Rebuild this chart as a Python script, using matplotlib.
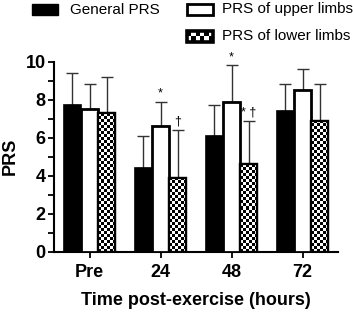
import numpy as np
import matplotlib
matplotlib.use("Agg")
import matplotlib.pyplot as plt
from matplotlib.patches import Rectangle

plt.rcParams['font.family'] = ['Liberation Sans', 'DejaVu Sans']

# data
timepoints = ["Pre", "24", "48", "72"]
general_prs = [7.7, 4.4, 6.1, 7.4]
general_sd = [1.7, 1.7, 1.6, 1.4]
upper_prs = [7.5, 6.6, 7.9, 8.5]
upper_sd = [1.3, 1.3, 1.9, 1.1]
lower_prs = [7.3, 3.9, 4.6, 6.9]
lower_sd = [1.9, 2.5, 2.3, 1.9]
series_labels = ["General PRS", "PRS of upper limbs", "PRS of lower limbs"]

# significance marks: (timepoint index, series index, symbol)
marks = [(1, 1, "*"), (1, 2, "\u2020"), (2, 1, "*"), (2, 2, "* \u2020")]

W, H = 353, 313
fig = plt.figure(figsize=(W / 100, H / 100), dpi=100)
ax = fig.add_axes([54 / W, 1 - 251.7 / H, (338 - 54) / W, (251.7 - 61.7) / H])

x = np.arange(len(timepoints))
bw = 0.24
ax.set_xlim(-0.5, 3.5)
ax.set_ylim(0, 10)


def px_per_unit():
    p0 = ax.transData.transform((0, 0))
    p1 = ax.transData.transform((1, 1))
    return p1[0] - p0[0], p1[1] - p0[1]


def checker(nx, ny):
    return (np.add.outer(np.arange(ny), np.arange(nx)) % 2).astype(float)


means = [general_prs, upper_prs, lower_prs]
sds = [general_sd, upper_sd, lower_sd]
offsets = [-bw, 0, bw]

# error bars (upward only) behind the bars
for m, s, off in zip(means, sds, offsets):
    ax.errorbar(x + off, m, yerr=[np.zeros(len(m)), s], fmt='none',
                ecolor='#333333', elinewidth=1.0, capsize=4.2, capthick=1.0,
                zorder=1)

ax.bar(x - bw, general_prs, bw, color='black', edgecolor='black',
       linewidth=1.2, zorder=3)
ax.bar(x, upper_prs, bw, color='white', edgecolor='black',
       linewidth=2.0, zorder=3)
lower_bars = ax.bar(x + bw, lower_prs, bw, color='white', edgecolor='black',
                    linewidth=1.6, zorder=3)

sx, sy = px_per_unit()
cell = 3.0
for b in lower_bars:
    x0, w, h = b.get_x(), b.get_width(), b.get_height()
    nx = max(1, int(round(w * sx / cell)))
    ny = max(1, int(round(h * sy / cell)))
    im = ax.imshow(checker(nx, ny), cmap='gray', extent=(x0, x0 + w, 0, h),
                   aspect='auto', interpolation='nearest', zorder=3.5,
                   origin='lower')
    im.set_clip_path(b)
    ax.add_patch(Rectangle((x0, 0), w, h, fill=False, edgecolor='black',
                           linewidth=1.6, zorder=4))
ax.set_xlim(-0.5, 3.5)
ax.set_ylim(0, 10)

for gi, si, sym in marks:
    top = means[si][gi] + sds[si][gi]
    ax.text(x[gi] + offsets[si], top + 0.12, sym, ha='center', va='bottom',
            fontsize=9, clip_on=False, zorder=5)

for sp in ['top', 'right']:
    ax.spines[sp].set_visible(False)
for sp in ['left', 'bottom']:
    ax.spines[sp].set_linewidth(1.5)

ax.set_xticks(x)
ax.set_xticklabels(timepoints, fontsize=13, fontweight='bold')
ax.set_yticks(np.arange(0, 11, 2))
ax.set_yticks(np.arange(1, 10, 2), minor=True)
ax.set_yticklabels([str(v) for v in range(0, 11, 2)], fontsize=13,
                   fontweight='bold')
ax.tick_params(axis='x', length=4, width=1.3, pad=5)
ax.tick_params(axis='y', which='both', length=4, width=1.3, pad=2)
ax.set_xlabel("Time post-exercise (hours)", fontsize=13, fontweight='bold',
              labelpad=8)
ax.set_ylabel("PRS", fontsize=13, fontweight='bold', labelpad=5)

# legend drawn in pixel coordinates on an overlay
lg = fig.add_axes([0, 0, 1, 1], facecolor='none')
sw_w, sw_h = 26, 11
entries = [(32, 9.5), (187, 9.5), (187, 36.5)]
text_x = [70, 222, 222]
for i, ((ex, ey), lab) in enumerate(zip(entries, series_labels)):
    if i == 0:
        lg.add_patch(Rectangle((ex, ey - sw_h / 2), sw_w, sw_h,
                               facecolor='black', edgecolor='black', lw=1))
    elif i == 1:
        lg.add_patch(Rectangle((ex, ey - sw_h / 2), sw_w, sw_h,
                               facecolor='white', edgecolor='black', lw=2))
    else:
        r = Rectangle((ex, ey - sw_h / 2), sw_w, sw_h, facecolor='white',
                      edgecolor='none', zorder=1)
        lg.add_patch(r)
        im = lg.imshow(checker(6, 2), cmap='gray',
                       extent=(ex, ex + sw_w, ey + sw_h / 2, ey - sw_h / 2),
                       aspect='auto', interpolation='nearest', zorder=2)
        im.set_clip_path(r)
        lg.add_patch(Rectangle((ex, ey - sw_h / 2), sw_w, sw_h, fill=False,
                               edgecolor='black', lw=2.6, zorder=3))
    lg.text(text_x[i], ey, lab, ha='left', va='center', fontsize=11)
lg.set_xlim(0, W)
lg.set_ylim(H, 0)
lg.axis('off')

fig.savefig("out.png", dpi=100)
